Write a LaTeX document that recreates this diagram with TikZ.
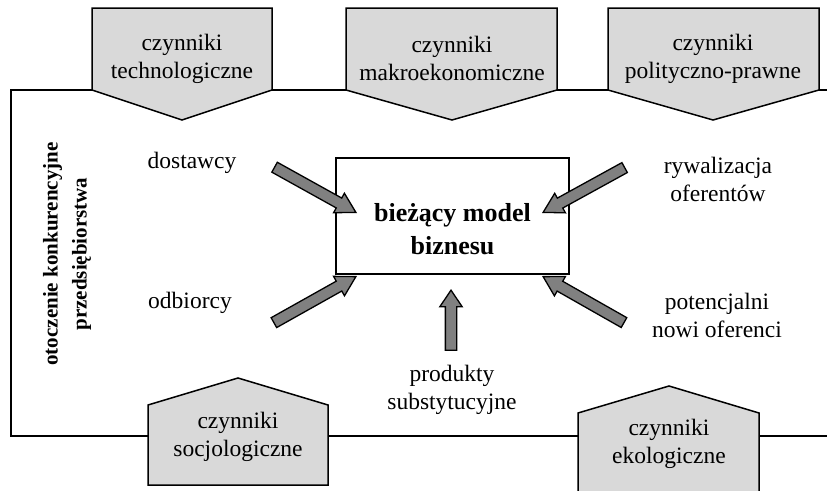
\documentclass[tikz,border=0pt]{standalone}
\usepackage{fontspec}
\setmainfont{Liberation Serif}
\usetikzlibrary{shapes.arrows}
\definecolor{boxgray}{HTML}{D9D9D9}
\definecolor{arrgray}{HTML}{808080}
\tikzset{
  frameline/.style={line width=1.5pt},
  pent/.style={draw=black, fill=boxgray, line width=1.5pt, line join=miter},
  lbl/.style={align=center, inner sep=0pt, font=\fontsize{23.5}{28}\selectfont},
  blk/.style={single arrow, draw=black, fill=arrgray, line width=1.3pt, inner sep=5pt,
    single arrow head extend=5.5pt, single arrow tip angle=60, anchor=tip},
}
\begin{document}
\begin{tikzpicture}[x=1pt, y=-1pt]
\useasboundingbox (0,0) rectangle (827,490);
% frame lines
\coordinate (tr) at (828,90);
\coordinate (tl) at (11,90);
\coordinate (bl) at (11,436);
\coordinate (br) at (828,436);
\draw[frameline] (tr) -- (tl) -- (bl) -- (br);
% top pentagons
\draw[pent] (92,8) -- (272,8) -- (272,90) -- (182,120) -- (92,90) -- cycle;
\draw[pent] (346,8) -- (557,8) -- (557,90) -- (452,120) -- (346,90) -- cycle;
\draw[pent] (608,8) -- (819,8) -- (819,90) -- (713,120) -- (608,90) -- cycle;
\node[lbl] (tech) at (182,59) {czynniki\\technologiczne};
\node[lbl] (makro) at (452,58) {czynniki\\makroekonomiczne};
\node[lbl] (polit) at (713,59) {czynniki\\polityczno-prawne};
% bottom pentagons
\draw[pent] (148,485) -- (328,485) -- (328,405) -- (238,378) -- (148,405) -- cycle;
\draw[pent] (578,494) -- (759,494) -- (759,413) -- (669,386) -- (578,413) -- cycle;
\node[lbl] (socjo) at (238,437) {czynniki\\socjologiczne};
\node[lbl] (eko) at (669,444) {czynniki\\ekologiczne};
% left vertical text
\node[lbl, rotate=90, font=\bfseries\fontsize{21}{29}\selectfont] (otocz) at (67,254)
  {otoczenie konkurencyjne\\przedsiębiorstwa};
% central box
\node[draw=black, line width=1.5pt, minimum width=233pt, minimum height=116pt, inner sep=0pt] (model) at (452.5,216) {};
\node[lbl, font=\bfseries\fontsize{26}{33}\selectfont] (modeltext) at (452.5,229) {bieżący model\\biznesu};
% labels
\node[lbl] (dost) at (192,163) {dostawcy};
\node[lbl] (ryw) at (718,179) {rywalizacja\\oferentów};
\node[lbl] (odb) at (190,303) {odbiorcy};
\node[lbl] (pot) at (717,315.5) {potencjalni\\nowi oferenci};
\node[lbl] (prod) at (452,390) {produkty\\substytucyjne};
% block arrows
\node[blk, minimum height=93pt, rotate=-29.05] (a1) at (357,213) {};
\node[blk, minimum height=93pt, rotate=208.8] (a2) at (542,213) {};
\node[blk, minimum height=94pt, rotate=29.3] (a3) at (357,276) {};
\node[blk, minimum height=93pt, rotate=150.4] (a4) at (542,276) {};
\node[blk, minimum height=60pt, rotate=90, single arrow tip angle=68] (a5) at (451,289) {};
\end{tikzpicture}
\end{document}
